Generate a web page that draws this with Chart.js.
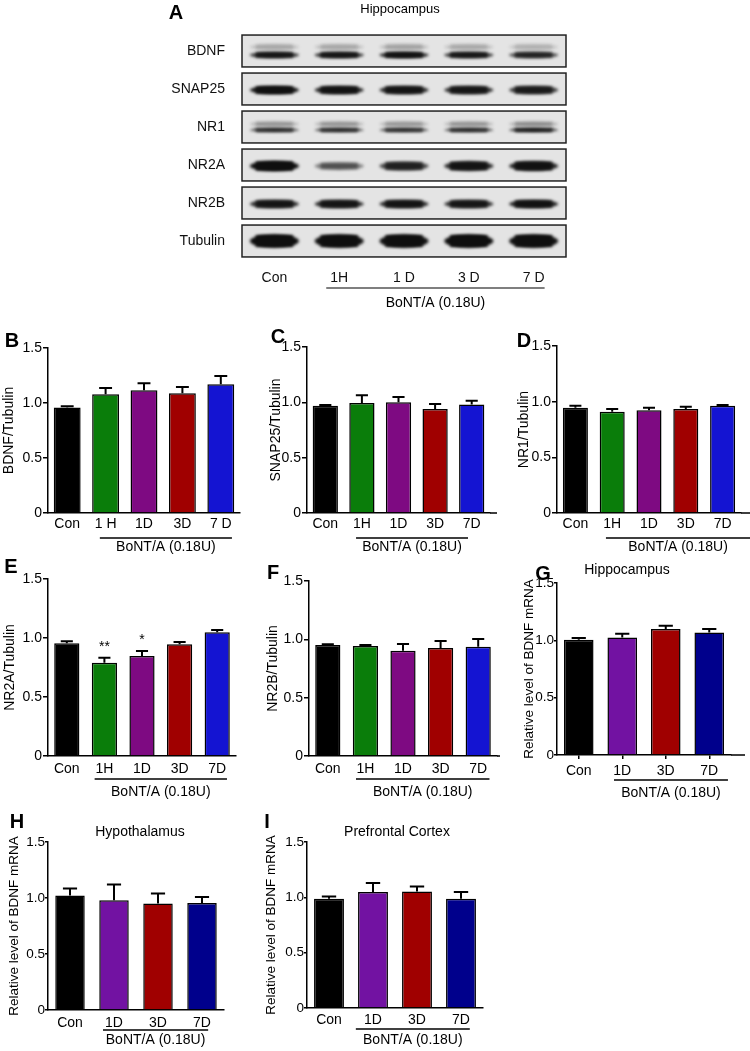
<!DOCTYPE html>
<html>
<head>
<meta charset="utf-8">
<script src="https://cdn.jsdelivr.net/npm/chart.js@4.4.1/dist/chart.umd.min.js"></script>
<style>
  body { margin: 0; background: #fff; width: 750px; height: 1051px; position: relative; overflow: hidden;
         font-family: Arial, "Liberation Sans", sans-serif; color: #000; }
  canvas { position: absolute; }
  .lt { position: absolute; font-weight: bold; font-size: 20px; line-height: 1; transform: translate(-50%, -50%); }
  .tt { position: absolute; font-size: 14px; line-height: 1; white-space: nowrap; transform: translate(-50%, -50%); }
</style>
</head>
<body>
<canvas id="blot" width="410" height="315" style="left:170px;top:0px"></canvas>
<canvas id="cB" width="248" height="232" style="left:0px;top:325px"></canvas>
<canvas id="cC" width="245" height="232" style="left:255px;top:325px"></canvas>
<canvas id="cD" width="245" height="232" style="left:505px;top:325px"></canvas>
<canvas id="cE" width="248" height="243" style="left:0px;top:560px"></canvas>
<canvas id="cF" width="245" height="243" style="left:255px;top:560px"></canvas>
<canvas id="cG" width="245" height="233" style="left:505px;top:570px"></canvas>
<canvas id="cH" width="248" height="221" style="left:0px;top:830px"></canvas>
<canvas id="cI" width="245" height="221" style="left:255px;top:830px"></canvas>

<div class="lt" style="left:176px;top:12px">A</div>
<div class="tt" style="left:400px;top:8px;font-size:13px">Hippocampus</div>
<div class="lt" style="left:12px;top:340px">B</div>
<div class="lt" style="left:278px;top:336px">C</div>
<div class="lt" style="left:524px;top:340px">D</div>
<div class="lt" style="left:11px;top:566px">E</div>
<div class="lt" style="left:273px;top:572px">F</div>
<div class="lt" style="left:543px;top:573px">G</div>
<div class="tt" style="left:627px;top:569px">Hippocampus</div>
<div class="lt" style="left:17px;top:821px">H</div>
<div class="tt" style="left:140px;top:831px">Hypothalamus</div>
<div class="lt" style="left:267px;top:821px">I</div>
<div class="tt" style="left:397px;top:831px">Prefrontal Cortex</div>

<script>
// Western blot (panel A)
const lanes = ['Con', '1H', '1 D', '3 D', '7 D'];
const proteins = ['BDNF', 'SNAP25', 'NR1', 'NR2A', 'NR2B', 'Tubulin'];
const bandBDNF = [0.85, 0.85, 0.92, 0.82, 0.72];
const bandSNAP25 = [0.97, 0.88, 0.86, 0.82, 0.78];
const bandNR1 = [0.7, 0.7, 0.68, 0.7, 0.8];
const bandNR2A = [1.0, 0.45, 0.72, 0.86, 0.9];
const bandNR2B = [0.85, 0.85, 0.86, 0.82, 0.9];
const bandTubulin = [1.0, 0.98, 0.98, 1.0, 0.98];

// quantification
const groups5B = ['Con', '1 H', '1D', '3D', '7 D'];
const groups5 = ['Con', '1H', '1D', '3D', '7D'];
const groups4 = ['Con', '1D', '3D', '7D'];
const groupLabel = 'BoNT/A (0.18U)';

const bdnfMean = [0.96, 1.08, 1.115, 1.088, 1.17];
const bdnfSem = [0.01, 0.056, 0.065, 0.057, 0.075];
const snapMean = [0.97, 0.995, 1.0, 0.94, 0.98];
const snapSem = [0.007, 0.07, 0.048, 0.045, 0.035];
const nr1Mean = [0.945, 0.91, 0.922, 0.934, 0.963];
const nr1Sem = [0.018, 0.024, 0.023, 0.02, 0.007];
const nr2aMean = [0.955, 0.79, 0.847, 0.946, 1.048];
const nr2aSem = [0.017, 0.043, 0.043, 0.02, 0.02];
const nr2aStars = ['', '**', '*', '', ''];
const nr2bMean = [0.951, 0.943, 0.902, 0.925, 0.937];
const nr2bSem = [0.007, 0.008, 0.058, 0.06, 0.066];
const hipMean = [1.005, 1.025, 1.099, 1.069];
const hipSem = [0.015, 0.033, 0.029, 0.03];
const hypMean = [1.022, 0.98, 0.951, 0.956];
const hypSem = [0.063, 0.14, 0.089, 0.054];
const pfcMean = [0.987, 1.048, 1.053, 0.987];
const pfcSem = [0.021, 0.081, 0.045, 0.061];

const colors5 = ['#000000', '#0a7d0a', '#7e0a82', '#a00000', '#1414d2'];
const colors4 = ['#000000', '#7212a2', '#a00000', '#00008c'];

const FONT = 'Arial, "Liberation Sans", sans-serif';
Chart.defaults.font.family = FONT;
Chart.defaults.color = '#000';

// blot bands look
const bandStyle = {
  BDNF: [{ dy: 4, h: 6, a: 1 }, { dy: -4, h: 6, a: 0.18 }],
  SNAP25: [{ dy: 1, h: 8, a: 1 }],
  NR1: [{ dy: 3, h: 4, a: 1 }, { dy: -3, h: 5, a: 0.3 }],
  NR2A: [{ dy: 1, h: 10, a: 1 }],
  NR2B: [{ dy: 1, h: 8, a: 1 }],
  Tubulin: [{ dy: 0, h: 13, a: 1 }]
};
const bandLevels = [bandBDNF, bandSNAP25, bandNR1, bandNR2A, bandNR2B, bandTubulin];
const blotPoints = [];
proteins.forEach((p, r) => lanes.forEach((l, c) => blotPoints.push({ x: l, y: p, v: bandLevels[r][c] })));

const blotPlugin = {
  id: 'blot',
  afterDatasetsDraw(chart) {
    const { ctx, chartArea: a, scales: { x, y } } = chart;
    const rowH = (a.bottom - a.top) / proteins.length;
    const laneW = (a.right - a.left) / lanes.length;
    ctx.save();
    proteins.forEach((p, r) => {
      const cy = y.getPixelForValue(r);
      ctx.fillStyle = '#e4e4e4';
      ctx.fillRect(a.left, cy - rowH * 0.42, a.right - a.left, rowH * 0.84);
    });
    const meta = chart.getDatasetMeta(0);
    const pts = chart.data.datasets[0].data;
    ctx.filter = 'blur(1.8px)';
    meta.data.forEach((el, i) => {
      const d = pts[i];
      bandStyle[d.y].forEach(b => {
        const h = d.y === 'NR2A' ? b.h * (0.5 + 0.5 * d.v) : b.h;
        const w = laneW * 0.76;
        ctx.fillStyle = 'rgba(15,15,15,' + (b.a * d.v) + ')';
        ctx.beginPath();
        ctx.ellipse(el.x, el.y + b.dy, w / 2, h / 2, 0, 0, Math.PI * 2);
        ctx.fill();
        ctx.fillRect(el.x - w * 0.38, el.y + b.dy - h * 0.45, w * 0.76, h * 0.9);
      });
    });
    ctx.filter = 'none';
    ctx.strokeStyle = '#222';
    ctx.lineWidth = 1.5;
    proteins.forEach((p, r) => {
      const cy = y.getPixelForValue(r);
      ctx.strokeRect(a.left, cy - rowH * 0.42, a.right - a.left, rowH * 0.84);
    });
    // treatment bracket
    const x1 = x.getPixelForValue(1) - laneW * 0.2, x2 = x.getPixelForValue(4) + laneW * 0.17;
    ctx.strokeStyle = '#000';
    ctx.lineWidth = 1.2;
    ctx.beginPath();
    ctx.moveTo(x1, a.bottom + 28);
    ctx.lineTo(x2, a.bottom + 28);
    ctx.stroke();
    ctx.fillStyle = '#000';
    ctx.font = '14px ' + FONT;
    ctx.textAlign = 'center';
    ctx.textBaseline = 'middle';
    ctx.fillText(groupLabel, (x1 + x2) / 2, a.bottom + 43);
    ctx.restore();
  }
};

new Chart(document.getElementById('blot'), {
  type: 'scatter',
  data: { datasets: [{ data: blotPoints, pointRadius: 0 }] },
  options: {
    responsive: false,
    animation: false,
    layout: { padding: { top: 32, right: 14, left: 0, bottom: 0 } },
    plugins: { legend: { display: false }, tooltip: { enabled: false } },
    scales: {
      x: {
        type: 'category', labels: lanes, offset: true,
        grid: { display: false, drawTicks: false }, border: { display: false },
        ticks: { padding: 10, font: { size: 14 }, color: '#111' },
        afterFit(s) { s.height = 55; }
      },
      y: {
        type: 'category', labels: proteins, offset: true,
        grid: { display: false, drawTicks: false }, border: { display: false },
        ticks: { padding: 17, font: { size: 14 }, color: '#111' },
        afterFit(s) { s.width = 72; }
      }
    }
  },
  plugins: [blotPlugin]
});

// error bars and stars
function errPlugin(sem, stars) {
  return {
    id: 'errbars',
    afterDatasetsDraw(chart) {
      const ctx = chart.ctx, y = chart.scales.y;
      const vals = chart.data.datasets[0].data;
      ctx.save();
      ctx.strokeStyle = '#000';
      ctx.lineWidth = 2;
      chart.getDatasetMeta(0).data.forEach((bar, i) => {
        const top = y.getPixelForValue(vals[i] + sem[i]);
        const cap = bar.width * 0.24;
        ctx.beginPath();
        ctx.moveTo(bar.x, bar.y);
        ctx.lineTo(bar.x, top);
        ctx.moveTo(bar.x - cap, top);
        ctx.lineTo(bar.x + cap, top);
        ctx.stroke();
        if (stars && stars[i]) {
          ctx.fillStyle = '#000';
          ctx.font = '14px ' + FONT;
          ctx.textAlign = 'center';
          ctx.textBaseline = 'alphabetic';
          ctx.fillText(stars[i], bar.x, top - 7);
        }
      });
      ctx.restore();
    }
  };
}

// group line under the treated bars
function groupPlugin(p) {
  return {
    id: 'group',
    afterDraw(chart) {
      const { ctx, chartArea: a, scales: { x } } = chart;
      const n = p.cats.length, bin = (a.right - a.left) / n;
      const x1 = x.getPixelForValue(1) - p.gl * bin;
      const x2 = x.getPixelForValue(n - 1) + p.gr * bin;
      ctx.save();
      ctx.strokeStyle = '#000';
      ctx.lineWidth = 1.5;
      ctx.beginPath();
      if (p.ext) {
        ctx.moveTo(a.right, a.bottom);
        ctx.lineTo(a.right + p.ext, a.bottom);
      }
      ctx.moveTo(x1, a.bottom + p.lineOff);
      ctx.lineTo(x2, a.bottom + p.lineOff);
      ctx.stroke();
      ctx.fillStyle = '#000';
      ctx.font = '14px ' + FONT;
      ctx.textAlign = 'center';
      ctx.textBaseline = 'middle';
      ctx.fillText(groupLabel, (x1 + x2) / 2, a.bottom + p.textOff);
      ctx.restore();
    }
  };
}

function barPanel(id, p) {
  const cv = document.getElementById(id);
  const bx = parseFloat(cv.style.left), by = parseFloat(cv.style.top);
  new Chart(cv, {
    type: 'bar',
    data: {
      labels: p.cats,
      datasets: [{
        data: p.mean, backgroundColor: p.colors, borderColor: '#000', borderWidth: 1.5,
        barPercentage: p.bar, categoryPercentage: 1
      }]
    },
    options: {
      responsive: false,
      animation: false,
      layout: { padding: { top: p.area.t - by, right: bx + cv.width - p.area.r, left: 0, bottom: 0 } },
      plugins: { legend: { display: false }, tooltip: { enabled: false } },
      scales: {
        x: {
          grid: { display: !!p.xticks, drawOnChartArea: false, offset: false, drawTicks: !!p.xticks,
                  tickLength: 4, color: '#000', lineWidth: 1.5 },
          border: { display: true, color: '#000', width: 1.5 },
          ticks: { font: { size: 14 }, padding: p.labelPad, maxRotation: 0, autoSkip: false },
          afterFit(s) { s.height = by + cv.height - p.area.b; }
        },
        y: {
          min: 0, max: 1.5,
          ticks: { stepSize: 0.5, font: { size: p.tickFont }, padding: p.tickPad,
                   callback: v => v === 0 ? '0' : v.toFixed(1) },
          grid: { drawOnChartArea: false, drawTicks: true, tickLength: p.tickLen, color: '#000', lineWidth: 1.5 },
          border: { display: true, color: '#000', width: 1.5 },
          title: { display: true, text: p.ytitle, font: { size: p.yfont }, padding: { top: p.tpad, bottom: 0 } },
          afterFit(s) { s.width = p.area.l - bx; }
        }
      }
    },
    plugins: [errPlugin(p.sem, p.stars), groupPlugin(p)]
  });
}

const westernAxis = { tickFont: 14, tickPad: 1, tickLen: 5, yfont: 14 };
const mrnaAxis = { tickFont: 13.5, tickPad: 0, tickLen: 3, yfont: 13.5 };

barPanel('cB', { ...westernAxis, cats: groups5B, mean: bdnfMean, sem: bdnfSem, colors: colors5, ytitle: 'BDNF/Tubulin',
  area: { l: 48, t: 348, r: 240, b: 513 }, bar: 0.70, tpad: 1, labelPad: 3,
  gl: 0.15, gr: 0.29, lineOff: 25, textOff: 34 });
barPanel('cC', { ...westernAxis, cats: groups5, mean: snapMean, sem: snapSem, colors: colors5, ytitle: 'SNAP25/Tubulin',
  area: { l: 307, t: 347, r: 490, b: 513 }, bar: 0.69, tpad: 13, labelPad: 3, ext: 7,
  gl: 0.16, gr: -0.1, lineOff: 25, textOff: 34 });
barPanel('cD', { ...westernAxis, cats: groups5, mean: nr1Mean, sem: nr1Sem, colors: colors5, ytitle: 'NR1/Tubulin',
  area: { l: 557, t: 346, r: 741, b: 513 }, bar: 0.68, tpad: 11, labelPad: 3, ext: 9,
  gl: 0.17, gr: 0.75, lineOff: 25, textOff: 34 });
barPanel('cE', { ...westernAxis, cats: groups5, mean: nr2aMean, sem: nr2aSem, colors: colors5, ytitle: 'NR2A/Tubulin', stars: nr2aStars,
  area: { l: 48, t: 579, r: 236, b: 756 }, bar: 0.67, tpad: 2, labelPad: 5,
  gl: 0.26, gr: 0.26, lineOff: 23, textOff: 36 });
barPanel('cF', { ...westernAxis, cats: groups5, mean: nr2bMean, sem: nr2bSem, colors: colors5, ytitle: 'NR2B/Tubulin',
  area: { l: 309, t: 581, r: 497, b: 756 }, bar: 0.67, tpad: 10, labelPad: 5, ext: 3,
  gl: 0.25, gr: 0.3, lineOff: 23, textOff: 36 });
barPanel('cG', { ...mrnaAxis, cats: groups4, mean: hipMean, sem: hipSem, colors: colors4, ytitle: 'Relative level of BDNF mRNA',
  area: { l: 557, t: 583, r: 731, b: 755 }, bar: 0.68, tpad: 16, labelPad: 4, xticks: true, ext: 14,
  gl: 0.19, gr: 0.43, lineOff: 25, textOff: 38 });
barPanel('cH', { ...mrnaAxis, cats: groups4, mean: hypMean, sem: hypSem, colors: colors4, ytitle: 'Relative level of BDNF mRNA',
  area: { l: 48, t: 842, r: 224, b: 1010 }, bar: 0.67, tpad: 6, labelPad: 5,
  gl: 0.25, gr: 0.14, lineOff: 20, textOff: 30 });
barPanel('cI', { ...mrnaAxis, cats: groups4, mean: pfcMean, sem: pfcSem, colors: colors4, ytitle: 'Relative level of BDNF mRNA',
  area: { l: 307, t: 842, r: 483, b: 1008 }, bar: 0.68, tpad: 8, labelPad: 4,
  gl: 0.39, gr: 0.2, lineOff: 21, textOff: 32 });
</script>
</body>
</html>
